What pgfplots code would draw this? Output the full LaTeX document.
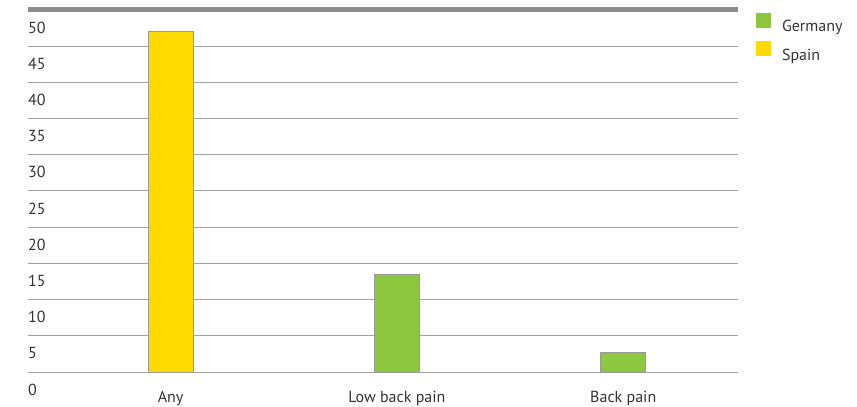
\documentclass[border=0pt]{standalone}
\usepackage{pgfplots}
\pgfplotsset{compat=1.18}
\usepackage{fontspec}
\setmainfont{PT Sans}
\definecolor{ggreen}{HTML}{8DC63F}
\definecolor{syellow}{HTML}{FFDA00}
\definecolor{txt}{HTML}{333333}
\definecolor{gridc}{HTML}{A0A0A0}
\definecolor{topc}{HTML}{8C8C8C}
\begin{document}
\begin{tikzpicture}[x=1pt,y=1pt]
\path[use as bounding box] (0,0) rectangle (857,407);
\begin{axis}[
  at={(28pt,35pt)}, anchor=south west,
  scale only axis, width=710pt, height=362pt,
  xmin=-0.63, xmax=2.507, ymin=0, ymax=50,
  clip=false,
  axis line style={draw=none},
  tick style={draw=none},
  ytick={0,5,...,45},
  ymajorgrids,
  grid style={gridc, line width=1pt},
  xtick={0,1,2},
  xticklabels={Any,Low back pain,Back pain},
  /pgf/number format/assume math mode=true,
  ticklabel style={font=\fontsize{16pt}{19pt}\selectfont, text=txt},
  yticklabel style={anchor=north west, inner sep=0pt, xshift=0pt, yshift=-11.5pt},
  xticklabel style={anchor=north, inner sep=0pt, yshift=-15pt},
  extra y ticks={50},
  extra y tick style={grid style={topc, line width=5pt}},
  ybar, bar width=45pt, bar shift=0pt,
  legend style={at={(1,1)}, anchor=north west, xshift=18pt, yshift=-3pt,
    draw=none, fill=none, inner sep=0pt, outer sep=0pt,
    row sep=8pt, column sep=11pt,
    nodes={inner sep=0pt, text=txt},
    font=\fontsize{16pt}{19pt}\selectfont},
  legend cell align=left,
  legend image code/.code={\fill[#1, draw=none] (0pt,-1pt) rectangle (15pt,14pt);},
]
\addplot[fill=ggreen, draw=gray!80, line width=0.8pt] coordinates {(1,13.5) (2,2.7)};
\addplot[fill=syellow, draw=gray!80, line width=0.8pt] coordinates {(0,47.1)};
\legend{Germany,Spain}
\end{axis}
\end{tikzpicture}
\end{document}
